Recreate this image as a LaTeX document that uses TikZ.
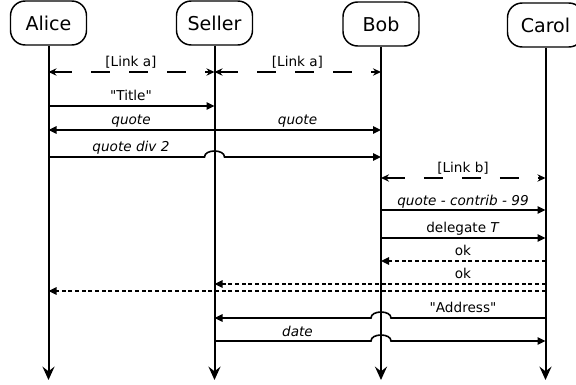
\documentclass[tikz,border=0pt]{standalone}
\usepackage{fontspec}
\setmainfont{DejaVu Sans}
% a family without the TeX quote mapping, so " stays straight
\newfontfamily\labelfont{DejaVu Sans}
\usetikzlibrary{arrows.meta,calc}

\begin{document}
\begin{tikzpicture}[x=0.75pt,y=-0.75pt,
  actor/.style={draw, line width=1.1pt, rounded corners=11pt,
    minimum width=57pt, minimum height=33pt, inner sep=0pt,
    font=\labelfont\fontsize{14.3}{16}\selectfont},
  life/.style={line width=1.5pt, -{Stealth[length=10pt,width=9pt,inset=3.5pt]}},
  msg/.style={line width=1.2pt, -{Triangle[length=6pt,width=5.6pt]}},
  reply/.style={msg, line width=1pt, dash pattern=on 3pt off 2pt},
  link/.style={line width=1.2pt,
    {Stealth[length=6pt,width=5.5pt]}-{Stealth[length=6pt,width=5.5pt]},
    dash pattern=on 14.25pt off 14.25pt},
  lbl/.style={anchor=base, inner sep=0pt, font=\labelfont\fontsize{10.2}{12}\selectfont},
]
\useasboundingbox (0,0) rectangle (576,385);

% participants (Carol's box runs past the right edge)
\begin{scope}
  \clip (0,0) rectangle (576,385);
  \node[actor] (alice)  at (48.5,23)  {Alice};
  \node[actor] (seller) at (214.5,23) {Seller};
  \node[actor] (bob)    at (381,24)   {Bob};
  \node[actor] (carol)  at (545.5,25) {Carol};
\end{scope}

% lifelines
\foreach \p in {alice,seller,bob,carol}
  \draw[life] (\p.south) -- (\p.south |- 0,380);

% links
\draw[link] (alice |- 0,72) -- (seller |- 0,72);
\node[lbl] (linka1) at (131,67) {[Link a]};
\draw[link] (seller |- 0,72) -- (bob |- 0,72);
\node[lbl] (linka2) at (297.5,67) {[Link a]};

% title
\draw[msg] (alice |- 0,106) -- (seller |- 0,106);
\node[lbl] (title) at (131,101) {"Title"};

% quotes
\draw[msg] (seller |- 0,130) -- (alice |- 0,130);
\node[lbl] (quote1) at (131,125) {\textit{quote}};
\draw[msg] (seller |- 0,130) -- (bob |- 0,130);
\node[lbl] (quote2) at (297.5,125) {\textit{quote}};

% half quote, hopping over the seller lifeline
\draw[msg] (alice |- 0,157) -- ($(seller |- 0,157)+(-10,0)$)
  .. controls +(0,-8) and +(0,-8) .. ($(seller |- 0,157)+(10,0)$)
  -- (bob |- 0,157);
\node[lbl] (half) at (131,152) {\textit{quote div 2}};

% link b
\draw[link] (bob |- 0,178) -- (carol |- 0,178);
\node[lbl] (linkb) at (463,173) {[Link b]};

% bob to carol
\draw[msg] (bob |- 0,210) -- (carol |- 0,210);
\node[lbl] (contrib) at (463,205) {\textit{quote - contrib - 99}};
\draw[msg] (bob |- 0,238) -- (carol |- 0,238);
\node[lbl] (delegate) at (463,233) {delegate \textit{T}};

% replies
\draw[reply] (carol |- 0,261) -- (bob |- 0,261);
\node[lbl] (ok1) at (463,256) {ok};
\draw[reply] (carol |- 0,284) -- (seller |- 0,284);
\node[lbl] (ok2) at (463,279) {ok};
\draw[reply] (carol |- 0,291) -- (alice |- 0,291);

% address, hopping over the bob lifeline
\draw[msg] (carol |- 0,318) -- ($(bob |- 0,318)+(10,0)$)
  .. controls +(0,-8) and +(0,-8) .. ($(bob |- 0,318)+(-10,0)$)
  -- (seller |- 0,318);
\node[lbl] (address) at (463,313) {"Address"};

% date, hopping over the bob lifeline
\draw[msg] (seller |- 0,341) -- ($(bob |- 0,341)+(-10,0)$)
  .. controls +(0,-8) and +(0,-8) .. ($(bob |- 0,341)+(10,0)$)
  -- (carol |- 0,341);
\node[lbl] (date) at (297.5,336) {\textit{date}};
\end{tikzpicture}
\end{document}
